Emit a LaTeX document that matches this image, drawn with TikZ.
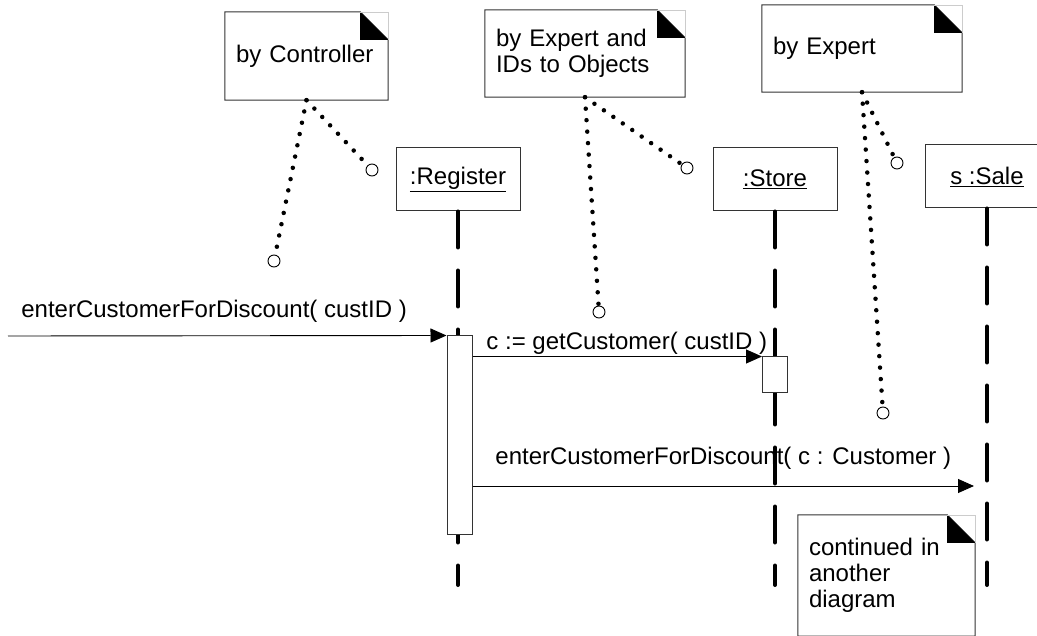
\documentclass[tikz,border=0pt]{standalone}
\usepackage{fontspec}
\setmainfont{Liberation Sans}
\usetikzlibrary{arrows.meta}

\tikzset{
  objbox/.style={draw=black!80,line width=1pt,fill=white,minimum width=124pt,minimum height=63pt,inner sep=0pt},
  actbox/.style={draw=black!80,line width=1pt,fill=white,minimum width=25pt,inner sep=0pt},
  lifeline/.style={line width=4pt,line cap=round,dash pattern=on 36pt off 23pt},
  msg/.style={line width=0.9pt,-{Triangle[length=16pt,width=14pt]}},
  msglabel/.style={inner sep=0pt},
  notebox/.style={align=left,inner xsep=11pt,inner ysep=0pt},
  notelink/.style={line width=4.5pt,line cap=round,dash pattern=on 0pt off 11.5pt},
  pin/.style={circle,draw,fill=white,minimum size=12pt,inner sep=0pt,line width=0.9pt},
}
\newcommand\dogear[1]{%
  \draw[black!80,line width=1pt] (#1.north west) -- ([xshift=-28pt]#1.north east)
    -- ([yshift=-28pt]#1.north east) -- (#1.south east) -- (#1.south west) -- cycle;
  \fill ([xshift=-28pt]#1.north east) -- ([xshift=-28pt,yshift=-28pt]#1.north east)
    -- ([yshift=-28pt]#1.north east) -- cycle;
  \draw[black!20] ([xshift=-28pt]#1.north east) -- (#1.north east) -- ([yshift=-28pt]#1.north east);
}

\begin{document}
\begin{tikzpicture}[x=1pt,y=-1pt,font=\fontsize{24}{26}\selectfont]
\useasboundingbox (0,0) rectangle (1037,636);
% notes
\node[notebox,text width=141pt,minimum height=88pt] (n1) at (306.5,56) {by Controller};
\node[notebox,text width=178pt,minimum height=87pt] (n2) at (585,53.5) {by Expert and\\IDs to Objects};
\node[notebox,text width=178pt,minimum height=87pt] (n3) at (862,48.5) {by Expert};
\node[notebox,text width=155pt,minimum height=121pt] (n4) at (886.5,575.5) {continued in\\another\\diagram};
\dogear{n1}
\dogear{n2}
\dogear{n3}
\dogear{n4}
% objects
\node[objbox] (reg) at (458,179.5) {\underline{:Register}};
\node[objbox] (sto) at (775,179.5) {\underline{:Store}};
\node[objbox] (sal) at (987,176.5) {\underline{s :Sale}};
% lifelines
\coordinate (regEnd) at (458,585);
\coordinate (stoEnd) at (775,585);
\coordinate (salEnd) at (987,585);
\draw[lifeline] (reg.south) -- (regEnd);
\draw[lifeline] (sto.south) -- (stoEnd);
\draw[lifeline] (sal.south) -- (salEnd);
% activations
\node[actbox,minimum height=198pt] (regAct) at (459.5,435) {};
\node[actbox,minimum height=36pt] (stoAct) at (775,375) {};
% messages
\coordinate (start) at (8,336);
\coordinate (salIn) at (974,486);
\draw[msg] (start) -- (regAct.north west)
  node[msglabel,pos=0.47,above=13pt] {enterCustomerForDiscount( custID )};
\draw[msg] (regAct.east |- stoAct.north) -- (stoAct.north west)
  node[msglabel,pos=0.533,above=2pt] {c := getCustomer( custID )};
\draw[msg] (regAct.east |- salIn) -- (salIn)
  node[msglabel,midway,above=16pt] {enterCustomerForDiscount( c : Customer )};
% note links
\node[pin] (p1a) at (372,170) {};
\node[pin] (p1b) at (274,261) {};
\node[pin] (p2a) at (687,168) {};
\node[pin] (p2b) at (599,312) {};
\node[pin] (p3a) at (897,163) {};
\node[pin] (p3b) at (883,413) {};
\draw[notelink] (n1.south) -- (p1a);
\draw[notelink] (n1.south) -- (p1b);
\draw[notelink] (n2.south) -- (p2a);
\draw[notelink] (n2.south) -- (p2b);
\draw[notelink] (n3.south) -- (p3a);
\draw[notelink] (n3.south) -- (p3b);
\end{tikzpicture}
\end{document}
